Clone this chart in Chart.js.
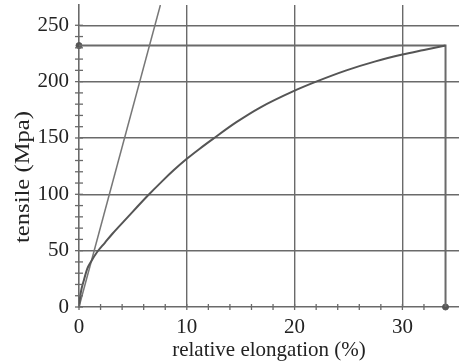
<!DOCTYPE html>
<html>
<head>
<meta charset="utf-8">
<script src="https://cdn.jsdelivr.net/npm/chart.js@4"></script>
<style>
html, body { margin: 0; padding: 0; background: #fff; }
#wrap { width: 459px; height: 363px; }
</style>
</head>
<body>
<div id="wrap"><canvas id="chartId"></canvas></div>
<script>
// stress-strain curve
const elongation = [0, 0.15, 0.46, 0.77, 1.1, 1.7, 2.4, 3.1, 4.5, 6.3, 7.7, 8.8, 10, 11.2, 12.4, 14.6, 16.8, 20, 22, 24.8, 27.5, 30, 32, 34];
const tensile = [0, 12, 24, 34, 40, 49, 57, 65, 79.5, 98, 111.5, 121.5, 131.5, 140.5, 149, 164, 177, 192, 200, 210, 218, 224, 228, 232];

// straight elastic line from origin
const elasticX = [0, 7.55];
const elasticY = [0, 268];

// end point of the test (max elongation / max tensile)
const endX = 34;
const endY = 232;

const xMax = 35.25;
const yMax = 268;
const xLabels = [0, 10, 20, 30];
const yLabels = [0, 50, 100, 150, 200, 250];

const gray = "#6a6a6a";
const font = "'Liberation Serif', 'Times New Roman', serif";

const curve = elongation.map((x, i) => ({ x: x, y: tensile[i] }));
const elastic = elasticX.map((x, i) => ({ x: x, y: elasticY[i] }));

// little "+" marks across each axis, like the original plot
const crossTicks = {
  id: "crossTicks",
  afterDraw(chart) {
    const c = chart.ctx;
    const xs = chart.scales.x;
    const ys = chart.scales.y;
    c.save();
    c.strokeStyle = gray;
    c.lineWidth = 1.3;
    xs.ticks.forEach((t) => {
      const px = xs.getPixelForValue(t.value);
      c.beginPath();
      c.moveTo(px, ys.bottom - 3);
      c.lineTo(px, ys.bottom + 3);
      c.stroke();
    });
    ys.ticks.forEach((t) => {
      const py = ys.getPixelForValue(t.value);
      c.beginPath();
      c.moveTo(xs.left - 4, py);
      c.lineTo(xs.left + 4, py);
      c.stroke();
    });
    // y title: lower than centre and a bit stretched in the original
    c.fillStyle = "#222";
    c.font = "21px " + font;
    const txt = "tensile (Mpa)";
    const w = c.measureText(txt).width;
    c.translate(23, 177);
    c.rotate(-Math.PI / 2);
    c.scale(132 / w, 1);
    c.textAlign = "center";
    c.textBaseline = "middle";
    c.fillText(txt, 0, 0);
    c.restore();
  },
};

const ctx = document.getElementById("chartId");
new Chart(ctx, {
  type: "line",
  data: {
    datasets: [
      {
        data: curve,
        borderColor: "#555",
        borderWidth: 2,
        pointRadius: 0,
        cubicInterpolationMode: "monotone",
      },
      {
        data: elastic,
        borderColor: "#777",
        borderWidth: 1.5,
        pointRadius: 0,
      },
      {
        data: [
          { x: 0, y: endY },
          { x: endX, y: endY },
          { x: endX, y: 0 },
        ],
        borderColor: gray,
        borderWidth: 2,
        pointRadius: 0,
      },
      {
        data: [
          { x: 0, y: endY },
          { x: endX, y: 0 },
        ],
        showLine: false,
        pointRadius: 3,
        pointBackgroundColor: "#555",
        pointBorderColor: "#555",
        clip: false,
      },
    ],
  },
  options: {
    animation: false,
    responsive: true,
    maintainAspectRatio: false,
    layout: { padding: { top: 5, right: 0, left: 0, bottom: 0 }, autoPadding: false },
    plugins: { legend: { display: false }, tooltip: { enabled: false } },
    scales: {
      x: {
        type: "linear",
        min: 0,
        max: xMax,
        afterBuildTicks: (s) => {
          s.ticks = s.ticks.filter((t) => t.value % 2 === 0);
        },
        afterFit: (s) => {
          s.height = 56;
          s.paddingLeft = 0;
          s.paddingRight = 0;
        },
        ticks: {
          stepSize: 2,
          autoSkip: false,
          maxRotation: 0,
          padding: 8,
          color: "#222",
          font: { family: font, size: 21 },
          callback: (v) => (xLabels.includes(v) ? v : ""),
        },
        grid: {
          drawTicks: false,
          lineWidth: 1.4,
          color: (c) => (c.tick && c.tick.value % 10 === 0 && c.tick.value !== 0 ? gray : "rgba(0,0,0,0)"),
        },
        border: { display: true, color: gray, width: 1.6 },
        title: {
          display: true,
          text: "relative elongation (%)",
          color: "#222",
          font: { family: font, size: 21 },
          padding: { top: 0, bottom: 0 },
        },
      },
      y: {
        type: "linear",
        min: 0,
        max: yMax,
        afterBuildTicks: (s) => {
          s.ticks = s.ticks.filter((t) => t.value % 10 === 0);
        },
        afterFit: (s) => {
          s.width = 79;
          s.paddingTop = 0;
          s.paddingBottom = 0;
        },
        ticks: {
          stepSize: 10,
          autoSkip: false,
          padding: 10,
          color: "#222",
          font: { family: font, size: 21 },
          callback: (v) => (yLabels.includes(v) ? v : ""),
        },
        grid: {
          drawTicks: false,
          lineWidth: 1.4,
          color: (c) => (c.tick && c.tick.value % 50 === 0 && c.tick.value !== 0 ? gray : "rgba(0,0,0,0)"),
        },
        border: { display: true, color: gray, width: 1.6 },
      },
    },
  },
  plugins: [crossTicks],
});
</script>
</body>
</html>
